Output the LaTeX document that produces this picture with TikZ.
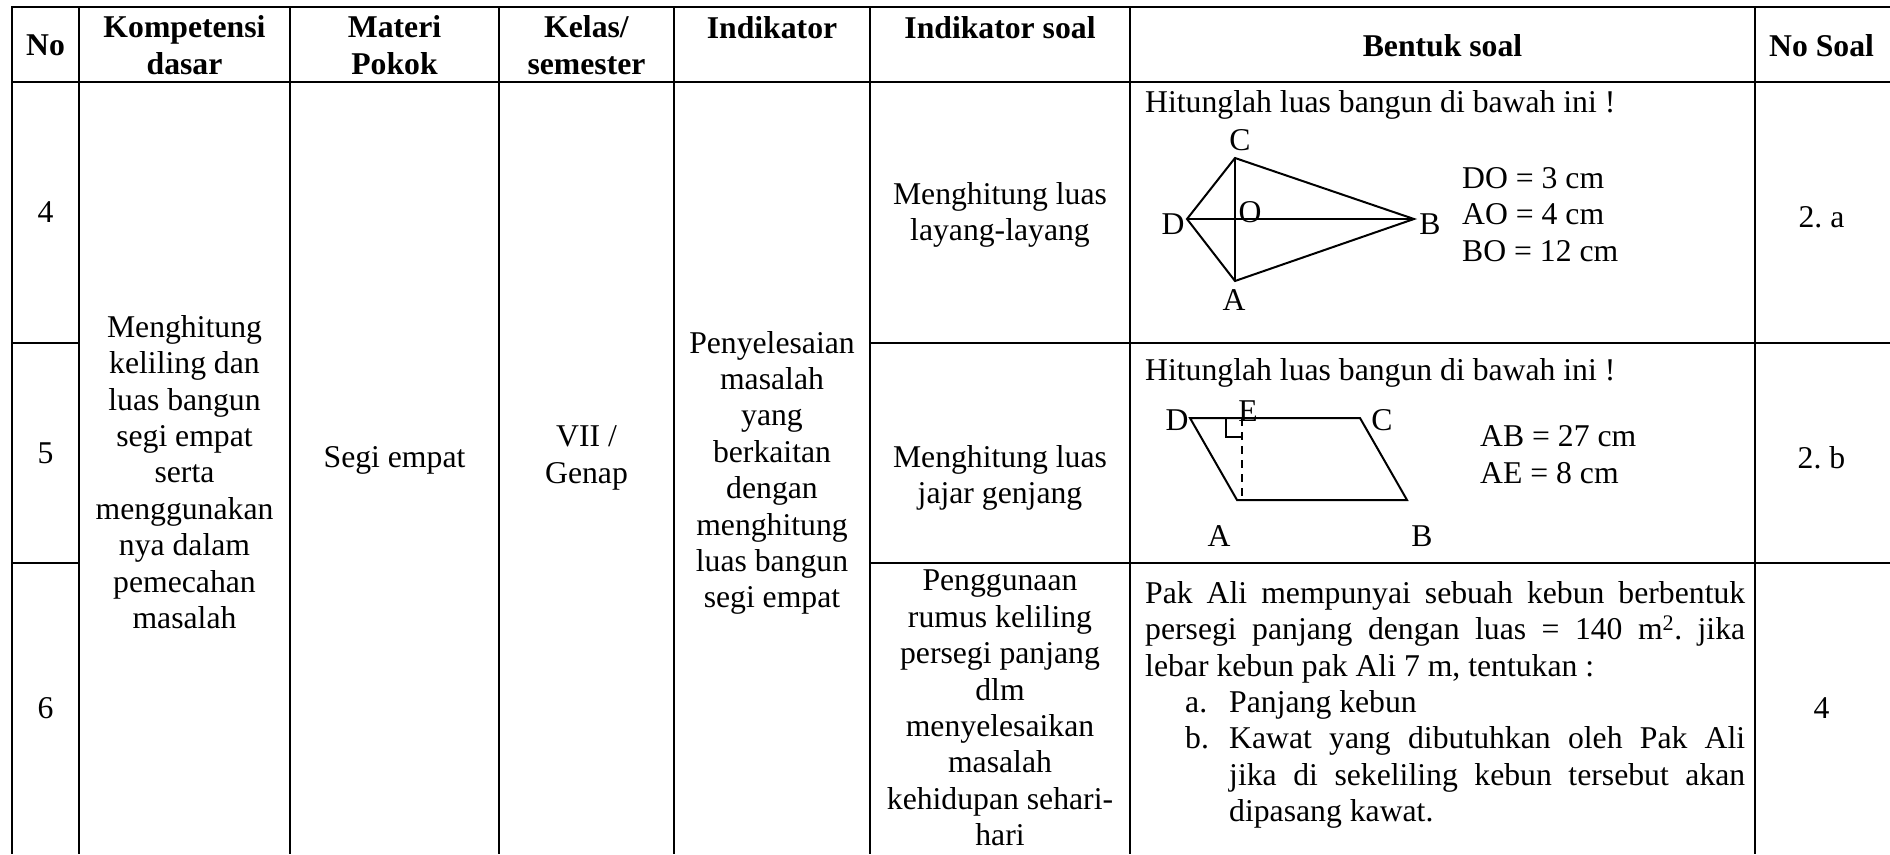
\documentclass[tikz,border=0pt]{standalone}
\usepackage{fontspec}
\setmainfont{Liberation Serif}
\frenchspacing
\begin{document}
\begin{tikzpicture}[x=1pt, y=-1pt,
        head/.style={font=\fontsize{31.7}{36.4}\selectfont\bfseries, align=center, inner sep=0pt},
        body/.style={font=\fontsize{31.7}{36.4}\selectfont, align=center, inner sep=0pt},
        lbl/.style={font=\fontsize{31.7}{36.4}\selectfont, inner sep=0pt},
        grid/.style={line width=2pt},
        fig/.style={line width=2pt}]
        \useasboundingbox (0, 0) rectangle (1890, 854);

        % table lines (right and bottom border lie outside the picture)
        \draw[grid] (1890, 7) -- (12, 7) -- (12, 854);
        \draw[grid] (12, 82) -- (1890, 82);
        \draw[grid] (12, 343) -- (79, 343);
        \draw[grid] (12, 563) -- (79, 563);
        \draw[grid] (870, 343) -- (1890, 343);
        \draw[grid] (870, 563) -- (1890, 563);
        \foreach \x in {79, 290, 499, 674, 870, 1130, 1755}
            \draw[grid] (\x, 7) -- (\x, 854);

        % header
        \node[head] (hno) at (45.5, 45) {No};
        \node[head] (hkd) at (184.5, 45) {Kompetensi\\dasar};
        \node[head] (hmp) at (394.5, 45) {Materi\\Pokok};
        \node[head] (hks) at (586.5, 45) {Kelas/\\semester};
        \node[head] (hind) at (772, 28) {Indikator};
        \node[head] (hisl) at (1000, 28) {Indikator soal};
        \node[head] (hbs) at (1442.5, 46) {Bentuk soal};
        \node[head] (hns) at (1821.5, 46) {No Soal};

        % merged columns
        \node[body] (no4) at (45.5, 212) {4};
        \node[body] (no5) at (45.5, 453) {5};
        \node[body] (no6) at (45.5, 708) {6};
        \node[body] (kd) at (184.5, 472) {Menghitung\\keliling dan\\luas bangun\\segi empat\\serta\\menggunakan\\nya dalam\\pemecahan\\masalah};
        \node[body] (mp) at (394.5, 460) {Segi empat};
        \node[body] (ks) at (586.5, 458) {VII /\\Genap};
        \node[body] (ind) at (772, 473) {Penyelesaian\\masalah\\yang\\berkaitan\\dengan\\menghitung\\luas bangun\\segi empat};

        % indikator soal
        \node[body] (isl4) at (1000, 215) {Menghitung luas\\layang-layang};
        \node[body] (isl5) at (1000, 478) {Menghitung luas\\jajar genjang};
        \node[body] (isl6) at (1000, 708) {Penggunaan\\rumus keliling\\persegi panjang\\dlm\\menyelesaikan\\masalah\\kehidupan sehari-\\hari};

        % no soal
        \node[body] (ns4) at (1821.5, 217) {2. a};
        \node[body] (ns5) at (1821.5, 458) {2. b};
        \node[body] (ns6) at (1821.5, 708) {4};

        % soal 2a: layang-layang
        \node[lbl, anchor=base west] (q4) at (1145, 112) {Hitunglah luas bangun di bawah ini !};
        \coordinate (kC) at (1235, 158);
        \coordinate (kD) at (1187, 219);
        \coordinate (kO) at (1235, 219);
        \coordinate (kB) at (1414, 219);
        \coordinate (kA) at (1235, 281);
        \draw[fig] (kD) -- (kC) -- (kB) -- (kA) -- cycle;
        \draw[fig] (kD) -- (kB);
        \draw[fig] (kC) -- (kA);
        \node[lbl] (lkC) at (1240, 140) {C};
        \node[lbl] (lkD) at (1173, 224) {D};
        \node[lbl] (lkO) at (1250, 212) {O};
        \node[lbl] (lkB) at (1430, 224) {B};
        \node[lbl] (lkA) at (1234, 300) {A};
        \node[lbl, anchor=base west] (do) at (1462, 188) {DO = 3 cm};
        \node[lbl, anchor=base west] (ao) at (1462, 224) {AO = 4 cm};
        \node[lbl, anchor=base west] (bo) at (1462, 261) {BO = 12 cm};

        % soal 2b: jajar genjang
        \node[lbl, anchor=base west] (q5) at (1145, 380) {Hitunglah luas bangun di bawah ini !};
        \coordinate (pD) at (1190, 418);
        \coordinate (pC) at (1360, 418);
        \coordinate (pB) at (1407, 500);
        \coordinate (pA) at (1237, 500);
        \coordinate (pE) at (1242, 418);
        \coordinate (pF) at (1242, 500);
        \coordinate (pR1) at (1226, 418);
        \coordinate (pR2) at (1226, 437);
        \coordinate (pR3) at (1242, 437);
        \draw[fig] (pD) -- (pC) -- (pB) -- (pA) -- cycle;
        \draw[fig, dash pattern=on 8pt off 6pt] (pE) -- (pF);
        \draw[fig] (pR1) -- (pR2) -- (pR3);
        \node[lbl] (lpD) at (1177, 420) {D};
        \node[lbl, anchor=base] (lpE) at (1248, 421) {E};
        \node[lbl] (lpC) at (1382, 420) {C};
        \node[lbl] (lpA) at (1219, 536) {A};
        \node[lbl] (lpB) at (1422, 536) {B};
        \node[lbl, anchor=base west] (ab) at (1480, 446) {AB = 27 cm};
        \node[lbl, anchor=base west] (ae) at (1480, 483) {AE = 8 cm};

        % soal 4: cerita
        \node[lbl, text width=600, align=justify, anchor=north west] (q6) at (1145, 581) {%
            Pak Ali mempunyai sebuah kebun berbentuk\linebreak
            persegi panjang dengan luas = 140 m\textsuperscript{2}. jika\linebreak
            lebar kebun pak Ali 7 m, tentukan :\par
            \leftskip=84pt \parindent=-44pt
            \makebox[44pt][l]{a.}Panjang kebun\par
            \makebox[44pt][l]{b.}Kawat yang dibutuhkan oleh Pak Ali\linebreak
            jika di sekeliling kebun tersebut akan\linebreak
            dipasang kawat.\par};
\end{tikzpicture}
\end{document}
